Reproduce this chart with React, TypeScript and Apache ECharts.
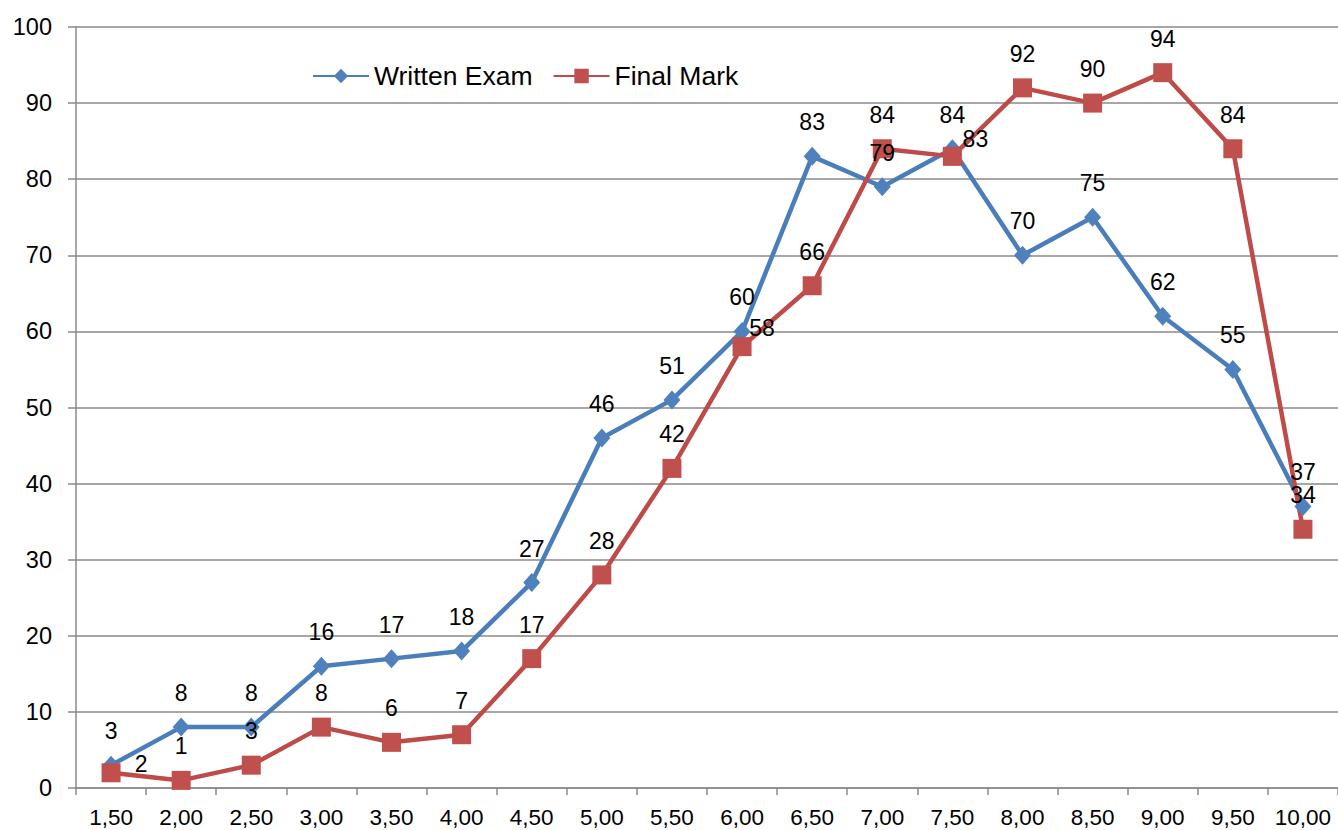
import React, { useEffect, useRef } from "react";
import * as echarts from "echarts";

const categories = ["1,50", "2,00", "2,50", "3,00", "3,50", "4,00", "4,50", "5,00", "5,50", "6,00", "6,50", "7,00", "7,50", "8,00", "8,50", "9,00", "9,50", "10,00"];
const writtenExam = [3, 8, 8, 16, 17, 18, 27, 46, 51, 60, 83, 79, 84, 70, 75, 62, 55, 37];
const finalMark = [2, 1, 3, 8, 6, 7, 17, 28, 42, 58, 66, 84, 83, 92, 90, 94, 84, 34];
const seriesNames = ["Written Exam", "Final Mark"];
const yTicks = { min: 0, max: 100, interval: 10 };

// label offsets (styling) for points whose label is placed to the right
const finalMarkLabelShift: Record<number, [number, number]> = {
  0: [30, -9],
  9: [20, -19],
  12: [23, -17],
};

const FONT = "'Liberation Sans', Arial, Helvetica, sans-serif";

export default function App() {
  const ref = useRef<HTMLDivElement>(null);
  useEffect(() => {
    if (!ref.current) return;
    const chart = echarts.init(ref.current, undefined, { renderer: "svg" });
    const labelBase = {
      show: true,
      position: "inside" as const,
      color: "#000",
      fontSize: 23,
      fontFamily: FONT,
    };
    chart.setOption({
      animation: false,
      backgroundColor: "#ffffff",
      textStyle: { fontFamily: FONT },
      legend: {
        left: 312,
        top: 61,
        padding: 0,
        itemWidth: 56,
        itemHeight: 18,
        itemGap: 20,
        textStyle: { fontSize: 26.5, color: "#000", fontFamily: FONT, lineHeight: 30 },
        data: seriesNames,
      },
      grid: { left: 76, right: -2, top: 27, bottom: 42, containLabel: false },
      xAxis: {
        type: "category",
        data: categories,
        boundaryGap: true,
        axisLine: { show: true, lineStyle: { color: "#8a8a8a", width: 1.5 } },
        axisTick: { show: true, inside: false, length: 7, alignWithLabel: false, lineStyle: { color: "#8a8a8a", width: 1.5 } },
        axisLabel: { color: "#000", fontSize: 22.5, fontFamily: FONT, margin: 18, interval: 0 },
        splitLine: { show: false },
      },
      yAxis: {
        type: "value",
        min: yTicks.min,
        max: yTicks.max,
        interval: yTicks.interval,
        axisLine: { show: true, lineStyle: { color: "#8a8a8a", width: 1.5 } },
        axisTick: { show: true, inside: false, length: 8, lineStyle: { color: "#8a8a8a", width: 1.5 } },
        axisLabel: { color: "#000", fontSize: 23.5, fontFamily: FONT, margin: 24 },
        splitLine: { show: true, lineStyle: { color: "#8a8a8a", width: 1.5 } },
      },
      series: [
        {
          name: seriesNames[0],
          type: "line",
          data: writtenExam.map((v) => ({ value: v, label: { ...labelBase, offset: [0, -34] } })),
          symbol: "diamond",
          symbolSize: [17, 19],
          lineStyle: { color: "#4A7EBB", width: 4.5 },
          itemStyle: { color: "#4F81BD" },
          z: 2,
        },
        {
          name: seriesNames[1],
          type: "line",
          data: finalMark.map((v, i) => ({
            value: v,
            label: { ...labelBase, offset: finalMarkLabelShift[i] ?? [0, -34] },
          })),
          symbol: "rect",
          symbolSize: 19,
          lineStyle: { color: "#BE4B48", width: 4.5 },
          itemStyle: { color: "#C0504D" },
          z: 2,
        },
      ],
    });
    return () => chart.dispose();
  }, []);
  return (
    <div
      ref={ref}
      style={{ position: "fixed", left: 0, top: 0, width: 1338, height: 830, background: "#fff" }}
    />
  );
}
